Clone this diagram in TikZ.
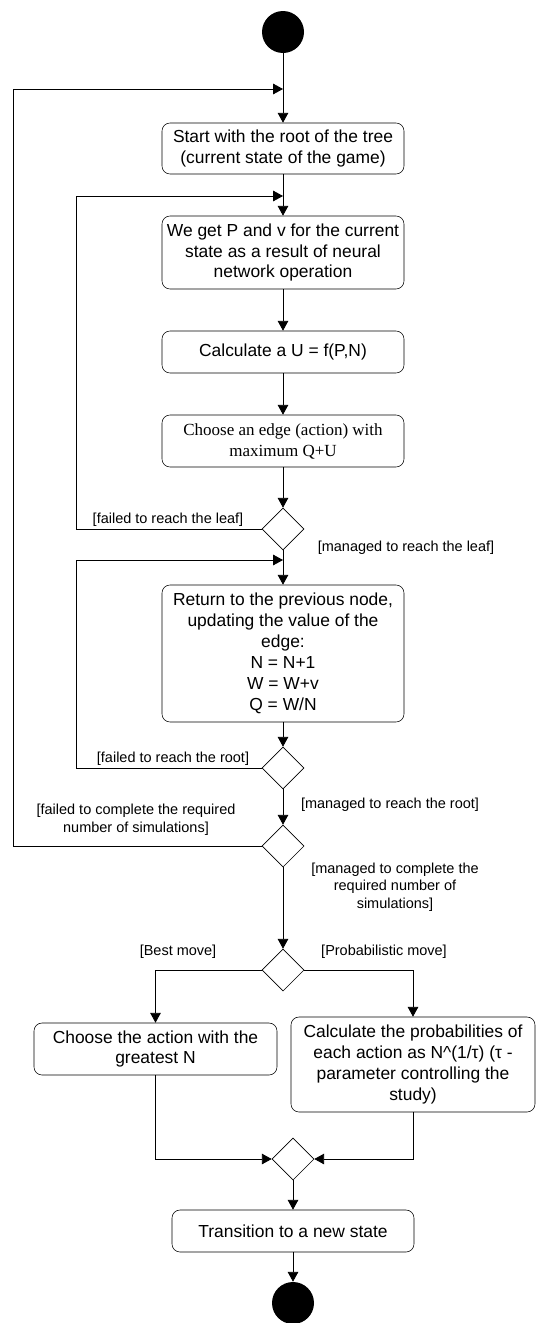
\documentclass[tikz,border=0pt]{standalone}
\usepackage{fontspec}
\setmainfont{Liberation Sans}
\newfontfamily\timesfont{Liberation Serif}
\usetikzlibrary{positioning,shapes.geometric,arrows.meta}

\begin{document}
\begin{tikzpicture}[
  action/.style={
    draw,
    rounded corners=0.2cm,
    align=center,
    inner sep=0.1cm,
    minimum width=6.05cm,
    font=\fontsize{12.4}{14.9}\selectfont
  },
  choice/.style={
    draw,
    diamond,
    inner sep=0,
    minimum size=1.05cm
  },
  terminal/.style={
    circle,
    fill=black,
    inner sep=0,
    minimum size=1.05cm
  },
  guard/.style={
    align=center,
    inner sep=0,
    font=\fontsize{10.3}{12.6}\selectfont
  },
  flow/.style={->, semithick},
  >={Triangle[length=7pt,width=7.5pt]}
]
\useasboundingbox (0,0) rectangle (13.4,-33.075);

\node[terminal] (start) at (7.075,-0.8) {};
\node[action, minimum height=1.275cm] (root) at (7.075,-3.7125) {Start with the root of the tree\\(current state of the game)};
\node[action, minimum height=1.825cm] (net) at (7.075,-6.3125) {We get P and v for the current\\state as a result of neural\\network operation};
\node[action, minimum height=1.05cm] (calcu) at (7.075,-8.8) {Calculate a U = f(P,N)};
\node[action, minimum height=1.3cm, font=\fontsize{12.1}{14.9}\timesfont] (edge) at (7.075,-11.025) {Choose an edge (action) with\\maximum Q+U};
\node[choice] (leaf) at (7.075,-13.225) {};
\node[action, minimum height=3.425cm] (backup) at (7.075,-16.3375) {Return to the previous node,\\updating the value of the\\edge:\\N = N+1\\W = W+v\\Q = W/N};
\node[choice] (rootq) at (7.075,-19.2) {};
\node[choice] (simq) at (7.075,-21.15) {};
\node[choice] (moveq) at (7.075,-24.25) {};
\node[action, minimum width=6.075cm, minimum height=1.3cm] (best) at (3.8875,-26.225) {Choose the action with the\\greatest N};
\node[action, minimum width=6.1cm, minimum height=2.375cm] (prob) at (10.325,-26.6125) {Calculate the probabilities of\\each action as N\textasciicircum(1/τ) (τ -\\parameter controlling the\\study)};
\node[choice] (merge) at (7.325,-28.975) {};
\node[action, minimum height=1.05cm] (next) at (7.325,-30.775) {Transition to a new state};
\node[terminal] (stop) at (7.325,-32.575) {};

% loop joins and corners
\coordinate (join1) at (7.075,-2.225);
\coordinate (join2) at (7.075,-4.9);
\coordinate (join3) at (7.075,-14.0);
\coordinate (outer) at (0.325,-2.225);
\coordinate (inner2) at (1.9,-4.9);
\coordinate (inner3) at (1.9,-14.0);

\draw[flow] (start) -- (root);
\draw[flow] (root) -- (net);
\draw[flow] (net) -- (calcu);
\draw[flow] (calcu) -- (edge);
\draw[flow] (edge) -- (leaf);
\draw[flow] (leaf) -- (backup);
\draw[flow] (backup) -- (rootq);
\draw[flow] (rootq) -- (simq);
\draw[flow] (simq) -- (moveq);
\draw[flow] (leaf.west) -| (inner2) -- (join2);
\draw[flow] (rootq.west) -| (inner3) -- (join3);
\draw[flow] (simq.west) -| (outer) -- (join1);
\draw[flow] (moveq.west) -| (best.north);
\draw[flow] (moveq.east) -| (prob.north);
\draw[flow] (best.south) |- (merge.west);
\draw[flow] (prob.south) |- (merge.east);
\draw[flow] (merge) -- (next);
\draw[flow] (next) -- (stop);

\node[guard] (failleaf) at (4.2,-13.0) {[failed to reach the leaf]};
\node[guard] (okleaf) at (10.15,-13.7) {[managed to reach the leaf]};
\node[guard] (failroot) at (4.325,-18.975) {[failed to reach the root]};
\node[guard] (okroot) at (9.75,-20.125) {[managed to reach the root]};
\node[guard] (failsims) at (3.4,-20.5) {[failed to complete the required\\number of simulations]};
\node[guard] (oksims) at (9.875,-22.175) {[managed to complete the\\required number of\\simulations]};
\node[guard] (bestlbl) at (4.45,-23.8) {[Best move]};
\node[guard] (problbl) at (9.6,-23.8) {[Probabilistic move]};
\end{tikzpicture}
\end{document}
